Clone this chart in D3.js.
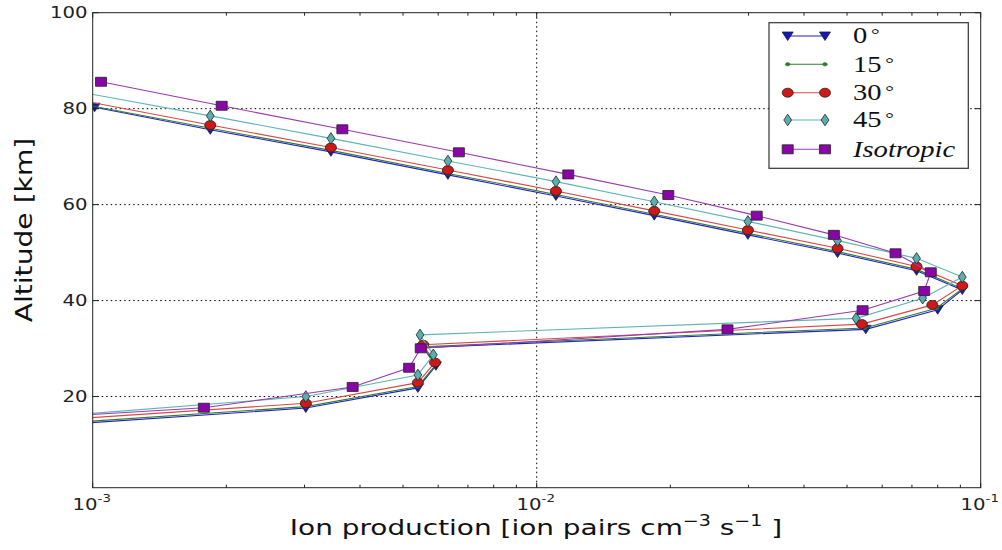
<!DOCTYPE html>
<html><head><meta charset="utf-8">
<script src="https://cdn.jsdelivr.net/npm/d3@7"></script>
<style>body{margin:0;background:#fff}svg{display:block}</style>
</head><body><svg id="c" width="1002" height="550"></svg>
<script>
// ---- data ----
const seriesNames = ["0", "15", "30", "45", "Isotropic"];
const prod0  = [1.01e-3, 1.84e-3, 3.44e-3, 6.31e-3, 1.105e-2, 1.84e-2, 2.99e-2, 4.76e-2, 7.17e-2, 9.09e-2, 8.0e-2, 5.51e-2, 5.55e-3, 5.93e-3, 5.40e-3, 3.02e-3, 8.1e-4];
const alt0   = [80.3, 75.6, 71.0, 66.2, 61.8, 57.7, 53.7, 49.9, 46.2, 42.2, 38.1, 34.0, 30.2, 26.4, 21.8, 17.6, 14.0];
const prod15 = [0.99e-3, 1.84e-3, 3.44e-3, 6.31e-3, 1.105e-2, 1.84e-2, 2.99e-2, 4.76e-2, 7.17e-2, 9.09e-2, 7.95e-2, 5.48e-2, 5.55e-3, 5.92e-3, 5.40e-3, 3.02e-3, 8.1e-4];
const alt15  = [80.6, 75.9, 71.3, 66.5, 62.1, 58.0, 54.0, 50.2, 46.5, 42.5, 38.4, 34.3, 30.4, 26.6, 22.1, 17.9, 14.3];
const prod30 = [0.97e-3, 1.84e-3, 3.44e-3, 6.31e-3, 1.105e-2, 1.84e-2, 2.99e-2, 4.76e-2, 7.17e-2, 9.09e-2, 7.78e-2, 5.40e-2, 5.55e-3, 5.90e-3, 5.40e-3, 3.02e-3, 8.0e-4];
const alt30  = [81.5, 76.6, 71.9, 67.2, 62.85, 58.7, 54.7, 50.9, 47.1, 43.1, 39.1, 35.1, 30.8, 27.1, 22.9, 18.6, 15.0];
const prod45 = [0.97e-3, 1.84e-3, 3.44e-3, 6.31e-3, 1.105e-2, 1.84e-2, 2.99e-2, 4.76e-2, 7.17e-2, 9.09e-2, 7.40e-2, 5.24e-2, 5.46e-3, 5.85e-3, 5.40e-3, 3.02e-3, 8.5e-4];
const alt45  = [83.2, 78.5, 73.8, 69.1, 64.8, 60.6, 56.5, 52.5, 48.8, 44.9, 40.5, 36.3, 32.85, 28.7, 24.5, 20.0, 16.0];
const prodIso = [1.044e-3, 1.952e-3, 3.65e-3, 6.68e-3, 1.178e-2, 1.979e-2, 3.13e-2, 4.67e-2, 6.43e-2, 7.72e-2, 7.46e-2, 5.42e-2, 2.69e-2, 5.48e-3, 5.16e-3, 3.85e-3, 1.78e-3, 3.96e-4];
const altIso  = [85.6, 80.6, 75.7, 70.9, 66.3, 62.0, 57.7, 53.7, 49.85, 45.9, 42.0, 38.0, 34.0, 30.05, 26.0, 22.0, 17.67, 14.0];
const xTickValues = [1e-3, 1e-2, 1e-1];
const xTickExponents = ["-3", "-2", "-1"];
const yTickValues = [20, 40, 60, 80, 100];

// ---- styling ----
const SX = 1.27; // horizontal stretch of the original picture
const styles = [
  {line:"#2323c8", fill:"#1414c8", marker:"tri"},
  {line:"#2e7d2e", fill:"#2e7d2e", marker:"dot"},
  {line:"#d84848", fill:"#d01818", marker:"circle"},
  {line:"#5fb5b5", fill:"#5aaeae", marker:"diamond"},
  {line:"#9a38b0", fill:"#8a05a8", marker:"square"}
];
const series = [
  {p:prod0, a:alt0}, {p:prod15, a:alt15}, {p:prod30, a:alt30}, {p:prod45, a:alt45}, {p:prodIso, a:altIso}
].map((s,i)=>({name:seriesNames[i], style:styles[i], pts:s.p.map((v,j)=>({x:v, y:s.a[j]}))}));

const L = 92.7, R = 980.7, T = 12.7, B = 487.7;
const x = d3.scaleLog().domain([1e-3, 1e-1]).range([L, R]);
const y = d3.scaleLinear().domain([1, 100]).range([B, T]);

const svg = d3.select("#c");
svg.append("rect").attr("width",1002).attr("height",550).attr("fill","#fff");
svg.append("defs").append("clipPath").attr("id","clip")
  .append("rect").attr("x",L).attr("y",T).attr("width",R-L).attr("height",B-T);

// grid
const grid = svg.append("g").attr("stroke","#000").attr("stroke-width",1).attr("stroke-dasharray","1.5,3");
xTickValues.slice(1,-1).forEach(v=>grid.append("line").attr("x1",x(v)).attr("x2",x(v)).attr("y1",T).attr("y2",B));
yTickValues.filter(v=>v<100).forEach(v=>grid.append("line").attr("x1",L).attr("x2",R).attr("y1",y(v)).attr("y2",y(v)));

function markerPath(type, cx, cy){
  switch(type){
    case "tri": return `M${cx-5.5},${cy-4} L${cx+5.5},${cy-4} L${cx},${cy+4.5} Z`;
    case "diamond": return `M${cx},${cy-5.8} L${cx+3.9},${cy} L${cx},${cy+5.8} L${cx-3.9},${cy} Z`;
    case "square": return `M${cx-5.5},${cy-4.5} h11 v9 h-11 Z`;
  }
}
function drawMarker(g, st, cx, cy){
  if(st.marker==="circle"){
    g.append("ellipse").attr("cx",cx).attr("cy",cy).attr("rx",5.5).attr("ry",4.5)
      .attr("fill",st.fill).attr("stroke","#222").attr("stroke-width",0.8);
  } else if(st.marker==="dot"){
    g.append("ellipse").attr("cx",cx).attr("cy",cy).attr("rx",2.3).attr("ry",1.8)
      .attr("fill",st.fill).attr("stroke",st.fill).attr("stroke-width",0.5);
  } else {
    g.append("path").attr("d",markerPath(st.marker,cx,cy))
      .attr("fill",st.fill).attr("stroke","#222").attr("stroke-width",0.8);
  }
}

const plot = svg.append("g").attr("clip-path","url(#clip)");
const line = d3.line().x(d=>x(d.x)).y(d=>y(d.y));
series.forEach(s=>{
  const g = plot.append("g");
  g.append("path").datum(s.pts).attr("d",line).attr("fill","none")
    .attr("stroke",s.style.line).attr("stroke-width",1.1);
  s.pts.forEach(d=>drawMarker(g, s.style, x(d.x), y(d.y)));
});

// frame
svg.append("rect").attr("x",L).attr("y",T).attr("width",R-L).attr("height",B-T)
  .attr("fill","none").attr("stroke","#222").attr("stroke-width",1);

// ticks (inward, all four sides)
const tk = svg.append("g").attr("stroke","#222").attr("stroke-width",1);
const minor = [];
for(let e=-3;e<-1;e++) for(let m=2;m<=9;m++) minor.push(m*Math.pow(10,e));
xTickValues.forEach(v=>{
  tk.append("line").attr("x1",x(v)).attr("x2",x(v)).attr("y1",B).attr("y2",B-5);
  tk.append("line").attr("x1",x(v)).attr("x2",x(v)).attr("y1",T).attr("y2",T+5);
});
minor.forEach(v=>{
  tk.append("line").attr("x1",x(v)).attr("x2",x(v)).attr("y1",B).attr("y2",B-3);
  tk.append("line").attr("x1",x(v)).attr("x2",x(v)).attr("y1",T).attr("y2",T+3);
});
yTickValues.forEach(v=>{
  tk.append("line").attr("x1",L).attr("x2",L+6).attr("y1",y(v)).attr("y2",y(v));
  tk.append("line").attr("x1",R).attr("x2",R-6).attr("y1",y(v)).attr("y2",y(v));
});

// tick labels
const sans = "'DejaVu Sans', sans-serif";
yTickValues.forEach(v=>{
  svg.append("text").attr("transform",`translate(87.5,${y(v)+5.6}) scale(${SX},1)`)
    .attr("text-anchor","end").attr("font-family",sans).attr("font-size",15.5).attr("fill","#222")
    .text(v);
});
xTickValues.forEach((v,i)=>{
  const t = svg.append("text").attr("transform",`translate(${x(v)-1},509.5) scale(${SX},1)`)
    .attr("text-anchor","middle").attr("font-family",sans).attr("font-size",15.5).attr("fill","#222");
  t.append("tspan").text("10");
  t.append("tspan").attr("font-size",10.5).attr("dy",-7.5).text(xTickExponents[i]);
});

// axis labels
const xl = svg.append("text").attr("transform",`translate(536,535) scale(${SX},1)`)
  .attr("text-anchor","middle").attr("font-family",sans).attr("font-size",22).attr("fill","#111");
xl.append("tspan").text("Ion production [ion pairs cm");
xl.append("tspan").attr("font-size",15).attr("dy",-9).text("\u22123");
xl.append("tspan").attr("dy",9).text(" s");
xl.append("tspan").attr("font-size",15).attr("dy",-9).text("\u22121");
xl.append("tspan").attr("dy",9).text(" ]");

svg.append("text").attr("transform",`translate(32,230) rotate(-90) scale(1.28,1.05)`)
  .attr("text-anchor","middle").attr("font-family",sans).attr("font-size",22).attr("fill","#111")
  .text("Altitude [km]");

// legend
const lg = svg.append("g");
lg.append("rect").attr("x",769).attr("y",22.7).attr("width",199.3).attr("height",145.6)
  .attr("fill","#fff").attr("stroke","#333").attr("stroke-width",1.2);
const legY = [36, 64.3, 92.7, 120, 149.3];
series.forEach((s,i)=>{
  const yy = legY[i];
  lg.append("line").attr("x1",787.7).attr("x2",825).attr("y1",yy).attr("y2",yy)
    .attr("stroke",s.style.line).attr("stroke-width",1.1);
  drawMarker(lg, s.style, 787.7, yy);
  drawMarker(lg, s.style, 825, yy);
  const t = lg.append("text").attr("transform",`translate(853,${yy+7.3}) scale(${SX},1)`)
    .attr("font-family","'Liberation Serif', serif").attr("font-size",22.5).attr("fill","#111");
  if(s.name==="Isotropic"){
    t.attr("font-style","italic").text(s.name);
  } else {
    t.append("tspan").text(s.name);
    t.append("tspan").attr("dx",3).attr("font-size",17).attr("dy",-3).text("\u00b0");
  }
});
</script></body></html>
